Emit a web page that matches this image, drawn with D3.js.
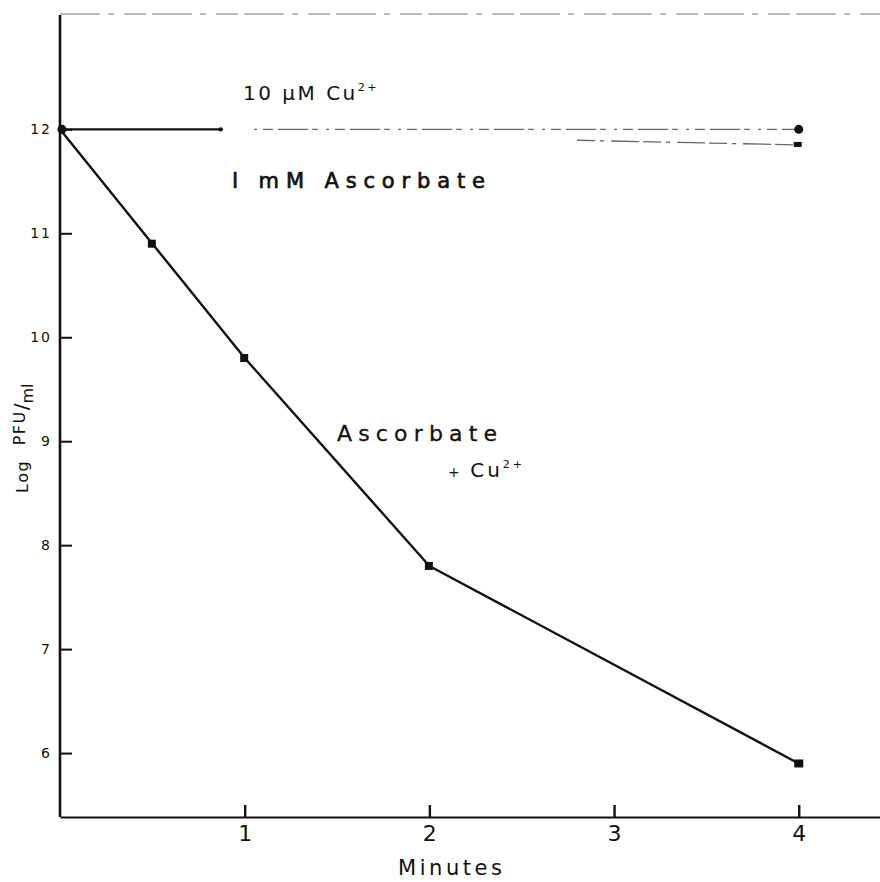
<!DOCTYPE html>
<html>
<head>
<meta charset="utf-8">
<script src="https://cdn.jsdelivr.net/npm/d3@7"></script>
<style>
  html, body { margin: 0; padding: 0; background: #fff; }
  svg { display: block; }
  text { font-family: "DejaVu Sans", "Liberation Sans", sans-serif; fill: #111; }
</style>
</head>
<body>
<svg id="chart" width="880" height="882"></svg>
<script>
// ---- data ----
const minutes = [0, 0.5, 1, 2, 4];                  // Ascorbate + Cu2+ time points
const logPfuAscCu = [12, 10.9, 9.8, 7.8, 5.9];      // Ascorbate + Cu2+
const cuMinutes = [0, 4];                            // 10 uM Cu2+ alone
const logPfuCu = [12, 12.0];
const ascMinutes = [0, 4];                           // 1 mM Ascorbate alone
const logPfuAsc = [12, 11.85];
const xTicks = [1, 2, 3, 4];
const yTicks = [6, 7, 8, 9, 10, 11, 12];
const xExtent = [0, 4.44];
const yExtent = [5.385, 13.1];

const svg = d3.select("#chart");
const x = d3.scaleLinear().domain(xExtent).range([60, 880]);
const y = d3.scaleLinear().domain(yExtent).range([817, 15]);

// top frame (faint, broken)
svg.append("line")
  .attr("x1", x(xExtent[0])).attr("x2", x(xExtent[1]))
  .attr("y1", y(yExtent[1]) - 1).attr("y2", y(yExtent[1]) - 1)
  .attr("stroke", "#777").attr("stroke-width", 1.2)
  .attr("stroke-dasharray", "40,8,6,10,22,6");

// y axis
const yAxis = d3.axisLeft(y).tickValues(yTicks).tickFormat(d3.format("d"))
  .tickSizeInner(-12).tickSizeOuter(0).tickPadding(8);
const gy = svg.append("g").attr("transform", `translate(${x(0)},0)`).call(yAxis);
gy.select(".domain").remove();
gy.selectAll(".tick line").attr("stroke", "#111").attr("stroke-width", 2);
gy.selectAll(".tick text").attr("font-size", 14).attr("letter-spacing", 2).attr("fill", "#111");
svg.append("line")
  .attr("x1", x(0)).attr("x2", x(0))
  .attr("y1", y(yExtent[1])).attr("y2", y(yExtent[0]))
  .attr("stroke", "#111").attr("stroke-width", 2.6);

// x axis
const xAxis = d3.axisBottom(x).tickValues(xTicks).tickFormat(d3.format("d"))
  .tickSizeInner(-12).tickSizeOuter(0).tickPadding(8);
const gx = svg.append("g").attr("transform", `translate(0,${y(yExtent[0])})`).call(xAxis);
gx.select(".domain").attr("stroke", "#111").attr("stroke-width", 2.2);
gx.selectAll(".tick line").attr("stroke", "#111").attr("stroke-width", 2.4);
gx.selectAll(".tick text").attr("font-size", 22).attr("fill", "#111");

// helper: sub-segment of a two-point series between t0 and t1
function seg(ts, vs, t0, t1) {
  const f = d3.scaleLinear().domain(ts).range(vs);
  return [[t0, f(t0)], [t1, f(t1)]];
}
const line = d3.line().x(d => x(d[0])).y(d => y(d[1]));

// Cu2+ alone: solid start, faint dashed continuation
svg.append("path").datum(seg(cuMinutes, logPfuCu, 0, 0.87))
  .attr("d", line).attr("fill", "none").attr("stroke", "#111").attr("stroke-width", 2.2);
svg.append("circle").attr("cx", x(0.87)).attr("cy", y(12)).attr("r", 2.2).attr("fill", "#111");
svg.append("path").datum(seg(cuMinutes, logPfuCu, 1.05, 4))
  .attr("d", line).attr("fill", "none").attr("stroke", "#666").attr("stroke-width", 1.3)
  .attr("stroke-dasharray", "3,6,10,5,30,4,6,8");
svg.append("circle").attr("cx", x(cuMinutes[1])).attr("cy", y(logPfuCu[1])).attr("r", 4.5).attr("fill", "#111");

// Ascorbate alone: faint dashed end portion
svg.append("path").datum(seg(ascMinutes, logPfuAsc, 2.8, 4))
  .attr("d", line).attr("fill", "none").attr("stroke", "#666").attr("stroke-width", 1.3)
  .attr("stroke-dasharray", "18,5,4,7,28,4");
svg.append("rect").attr("x", x(ascMinutes[1]) - 5).attr("y", y(logPfuAsc[1]) - 3)
  .attr("width", 8).attr("height", 5).attr("fill", "#111");

// Ascorbate + Cu2+
const pts = minutes.map((m, i) => [m, logPfuAscCu[i]]);
svg.append("path").datum(pts)
  .attr("d", line).attr("fill", "none").attr("stroke", "#111").attr("stroke-width", 2.4)
  .attr("stroke-linejoin", "round");
svg.selectAll("rect.pt").data(pts.slice(1)).join("rect").attr("class", "pt")
  .attr("x", d => x(d[0]) - 4.5).attr("y", d => y(d[1]) - 4)
  .attr("width", d => d[0] === 4 ? 9 : 8).attr("height", 8)
  .attr("fill", "#111");
svg.append("circle").attr("cx", x(0) + 2).attr("cy", y(12)).attr("r", 4.5).attr("fill", "#111");

// labels
const t1 = svg.append("text").attr("x", 243).attr("y", 100).attr("font-size", 20).attr("letter-spacing", 2.5);
t1.append("tspan").text("10 μM Cu");
t1.append("tspan").attr("font-size", 11).attr("dy", -9).text("2+");

svg.append("text").attr("x", 232).attr("y", 188).attr("font-size", 21)
  .attr("stroke", "#111").attr("stroke-width", 0.7)
  .attr("textLength", 253).attr("lengthAdjust", "spacing").text("I mM Ascorbate");

svg.append("text").attr("x", 337).attr("y", 441).attr("font-size", 22)
  .attr("stroke", "#111").attr("stroke-width", 0.3)
  .attr("textLength", 160).attr("lengthAdjust", "spacing").text("Ascorbate");

const t4 = svg.append("text").attr("x", 448).attr("y", 477).attr("font-size", 20).attr("letter-spacing", 3);
t4.append("tspan").attr("font-size", 14).text("+ ");
t4.append("tspan").text("Cu");
t4.append("tspan").attr("font-size", 11).attr("dy", -9).text("2+");

svg.append("text").attr("x", 398).attr("y", 875).attr("font-size", 21)
  .attr("textLength", 104).attr("lengthAdjust", "spacing").text("Minutes");

const yl = svg.append("text").attr("transform", "translate(28,493) rotate(-90)").attr("font-size", 16);
yl.append("tspan").attr("letter-spacing", 1.5).text("Log ");
yl.append("tspan").attr("dx", 8).attr("dy", -3).attr("letter-spacing", 1.5).text("PFU");
yl.append("tspan").attr("dy", 3).attr("font-size", 20).text("/");
yl.append("tspan").attr("dy", 5).text("ml");
</script>
</body>
</html>
